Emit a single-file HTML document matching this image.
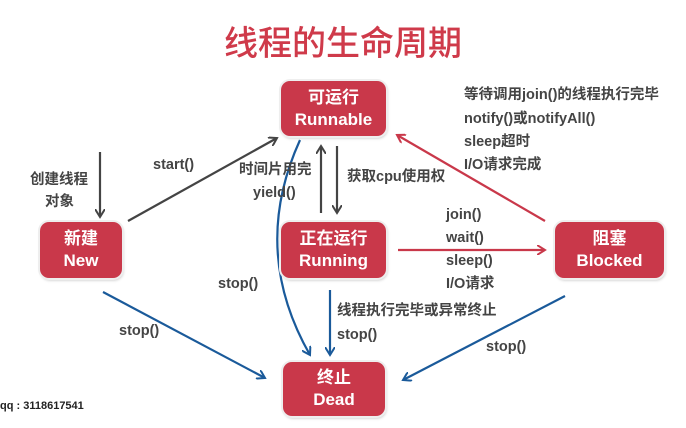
<!DOCTYPE html>
<html><head><meta charset="utf-8"><style>
body{margin:0;width:686px;height:428px;background:#fff;overflow:hidden;position:relative;font-family:"Liberation Sans","Noto Sans CJK SC",sans-serif}
.t{position:absolute;font-size:14.5px;font-weight:bold;color:#444;white-space:nowrap;line-height:16px}
.b{position:absolute;background:#c9384a;border-radius:9px;color:#fff;font-weight:bold;font-size:17px;text-align:center;line-height:22px;box-shadow:0 0 0 2px #eee,1px 2px 3px #bbb;display:flex;flex-direction:column;justify-content:center}
</style></head><body>
<div style="position:absolute;left:0;width:686px;top:16px;text-align:center;font-size:34px;color:#cf3a4a;font-weight:500;font-family:'Noto Sans CJK SC',sans-serif">线程的生命周期</div>
<svg width="686" height="428" style="position:absolute;left:0;top:0">
<defs>
<marker id="g" markerWidth="10" markerHeight="10" refX="8" refY="5" orient="auto" markerUnits="userSpaceOnUse"><path d="M0,0 L8,5 L0,10" fill="none" stroke="#444" stroke-width="2"/></marker>
<marker id="r" markerWidth="10" markerHeight="10" refX="8" refY="5" orient="auto" markerUnits="userSpaceOnUse"><path d="M0,0 L8,5 L0,10" fill="none" stroke="#c9384a" stroke-width="2"/></marker>
<marker id="u" markerWidth="10" markerHeight="10" refX="8" refY="5" orient="auto" markerUnits="userSpaceOnUse"><path d="M0,0 L8,5 L0,10" fill="none" stroke="#1a5a9a" stroke-width="2"/></marker>
</defs>
<g stroke-width="2.2" fill="none">
<line x1="100" y1="152" x2="100" y2="217" stroke="#444" marker-end="url(#g)"/>
<line x1="128" y1="221" x2="277" y2="138" stroke="#444" marker-end="url(#g)"/>
<line x1="321" y1="213" x2="321" y2="146" stroke="#444" marker-end="url(#g)"/>
<line x1="337" y1="146" x2="337" y2="213" stroke="#444" marker-end="url(#g)"/>
<path d="M300,140 Q250,250 310,355" stroke="#1a5a9a" marker-end="url(#u)"/>
<line x1="398" y1="250" x2="545" y2="250" stroke="#c9384a" marker-end="url(#r)"/>
<line x1="545" y1="221" x2="397" y2="135" stroke="#c9384a" marker-end="url(#r)"/>
<line x1="103" y1="292" x2="265" y2="378" stroke="#1a5a9a" marker-end="url(#u)"/>
<line x1="330" y1="290" x2="330" y2="355" stroke="#1a5a9a" marker-end="url(#u)"/>
<line x1="565" y1="296" x2="403" y2="380" stroke="#1a5a9a" marker-end="url(#u)"/>
</g></svg>
<div class="b" style="left:281px;top:81px;width:105px;height:55px">可运行<br>Runnable</div>
<div class="b" style="left:40px;top:222px;width:82px;height:56px">新建<br>New</div>
<div class="b" style="left:281px;top:222px;width:105px;height:56px">正在运行<br>Running</div>
<div class="b" style="left:555px;top:222px;width:109px;height:56px">阻塞<br>Blocked</div>
<div class="b" style="left:283px;top:362px;width:102px;height:54px">终止<br>Dead</div>
<div class="t" style="left:30px;top:172px">创建线程</div>
<div class="t" style="left:45px;top:194px">对象</div>
<div class="t" style="left:153px;top:157px">start()</div>
<div class="t" style="left:239px;top:162px">时间片用完</div>
<div class="t" style="left:253px;top:185px">yield()</div>
<div class="t" style="left:347px;top:169px">获取cpu使用权</div>
<div class="t" style="left:446px;top:207px">join()</div>
<div class="t" style="left:446px;top:230px">wait()</div>
<div class="t" style="left:446px;top:253px">sleep()</div>
<div class="t" style="left:446px;top:276px">I/O请求</div>
<div class="t" style="left:464px;top:87px">等待调用join()的线程执行完毕</div>
<div class="t" style="left:464px;top:111px">notify()或notifyAll()</div>
<div class="t" style="left:464px;top:134px">sleep超时</div>
<div class="t" style="left:464px;top:157px">I/O请求完成</div>
<div class="t" style="left:218px;top:276px">stop()</div>
<div class="t" style="left:119px;top:323px">stop()</div>
<div class="t" style="left:337px;top:303px">线程执行完毕或异常终止</div>
<div class="t" style="left:337px;top:327px">stop()</div>
<div class="t" style="left:486px;top:339px">stop()</div>
<div style="position:absolute;left:0;top:400px;font-size:11px;font-weight:bold;color:#222">qq : 3118617541</div>
</body></html>
